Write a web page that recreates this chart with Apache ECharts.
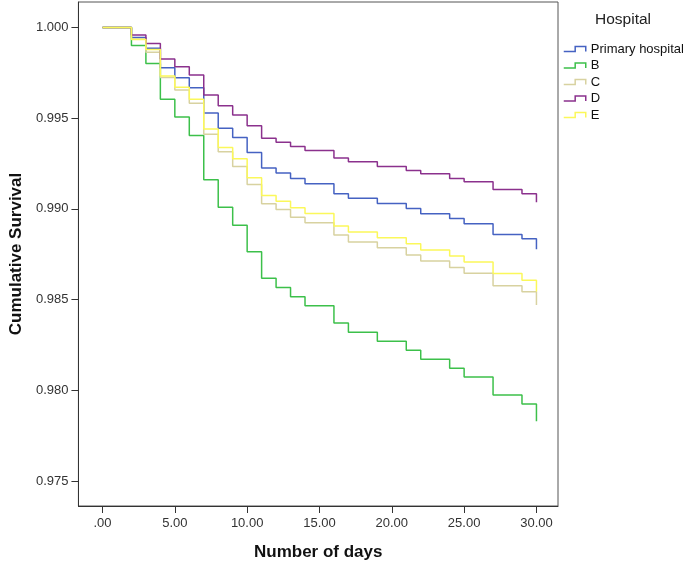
<!DOCTYPE html>
<html>
<head>
<meta charset="utf-8">
<script src="https://cdn.jsdelivr.net/npm/echarts@6/dist/echarts.min.js"></script>
<style>
html,body{margin:0;padding:0;background:#fff;}
#chart{width:685px;height:566px;}
</style>
</head>
<body>
<div id="chart"></div>
<script>
// ---- data ----
const days = [0,2,3,4,5,6,7,8,9,10,11,12,13,14,16,17,19,21,22,24,25,27,29,30];
const seriesNames = ['Primary hospital','B','C','D','E'];
const primaryHospital = [1.0,0.99945,0.99885,0.99778,0.99723,0.99668,0.99528,0.99445,0.99394,0.99311,0.99226,0.99198,0.99167,0.99138,0.99083,0.99059,0.99030,0.99002,0.98973,0.98947,0.98918,0.98859,0.98836,0.98777];
const hospitalB = [1.0,0.99901,0.99802,0.99605,0.99506,0.99405,0.99160,0.99009,0.98910,0.98764,0.98618,0.98567,0.98515,0.98466,0.98371,0.98320,0.98270,0.98221,0.98171,0.98122,0.98073,0.97974,0.97924,0.97829];
const hospitalC = [1.0,0.99936,0.99863,0.99725,0.99656,0.99583,0.99412,0.99315,0.99234,0.99134,0.99028,0.98997,0.98954,0.98924,0.98856,0.98817,0.98786,0.98746,0.98713,0.98677,0.98645,0.98576,0.98543,0.98470];
const hospitalD = [1.0,0.99958,0.99912,0.99826,0.99784,0.99738,0.99628,0.99568,0.99518,0.99458,0.99390,0.99368,0.99344,0.99322,0.99281,0.99260,0.99234,0.99212,0.99194,0.99167,0.99149,0.99107,0.99083,0.99037];
const hospitalE = [1.0,0.99934,0.99879,0.99733,0.99670,0.99605,0.99440,0.99339,0.99277,0.99171,0.99074,0.99042,0.99006,0.98975,0.98905,0.98872,0.98841,0.98808,0.98773,0.98740,0.98707,0.98644,0.98607,0.98545];
const xTicks = [0,5,10,15,20,25,30];
const yTicks = [0.975,0.980,0.985,0.990,0.995,1.000];

const colors = ['#4562c2','#3cc04a','#d8d2a0','#8b318d','#fbf85a'];
const allValues = [primaryHospital, hospitalB, hospitalC, hospitalD, hospitalE];

const chart = echarts.init(document.getElementById('chart'), null, {renderer:'canvas'});
const stepIcon = 'path://M0,10 L13,10 L13,0 L25,0 L25,10';

const option = {
  animation: false,
  backgroundColor: '#ffffff',
  textStyle: {fontFamily: 'Liberation Sans, Arial, sans-serif'},
  title: {
    text: 'Hospital', left: 590, top: 7,
    textStyle: {fontSize: 15.5, fontWeight: 'normal', color: '#222', fontFamily: 'Liberation Sans, Arial, sans-serif'}
  },
  legend: {
    orient: 'vertical', left: 558, top: 37.5,
    itemWidth: 22, itemHeight: 5, itemGap: 3.5,
    symbolKeepAspect: false,
    textStyle: {fontSize: 13, color: '#111'},
    data: seriesNames.map((n,i)=>({
      name: n, icon: stepIcon, symbolKeepAspect: false,
      itemStyle: {color: 'rgba(0,0,0,0)', borderColor: colors[i], borderWidth: 1.5}
    }))
  },
  grid: {
    left: 72, top: 2, width: 486, height: 506,
    show: true, borderColor: '#555', borderWidth: 1, backgroundColor: '#fff'
  },
  xAxis: {
    type: 'value', min: -1.664, max: 31.49,
    name: 'Number of days', nameLocation: 'middle', nameGap: 38,
    nameTextStyle: {fontSize: 17, fontWeight: 'bold', color: '#111'},
    axisLine: {show: true, onZero: false, lineStyle: {color: '#333', width: 1}},
    axisTick: {show: true, length: 7, lineStyle: {color: '#333'}, customValues: xTicks},
    axisLabel: {fontSize: 13, color: '#333', margin: 11, customValues: xTicks,
      formatter: v => v === 0 ? '.00' : v.toFixed(2)},
    splitLine: {show: false}
  },
  yAxis: {
    type: 'value', min: 0.973619, max: 1.001406,
    name: 'Cumulative Survival', nameLocation: 'middle', nameGap: 49, nameRotate: 90,
    nameTextStyle: {fontSize: 17, fontWeight: 'bold', color: '#111'},
    axisLine: {show: true, onZero: false, lineStyle: {color: '#333', width: 1}},
    axisTick: {show: true, length: 7, lineStyle: {color: '#333'}, customValues: yTicks},
    axisLabel: {fontSize: 13, color: '#333', margin: 10, customValues: yTicks,
      formatter: v => v.toFixed(3)},
    splitLine: {show: false}
  },
  series: seriesNames.map((n,i)=>({
    name: n, type: 'line', step: 'end', showSymbol: false, symbol: 'none',
    color: colors[i], z: 2 + i,
    lineStyle: {color: colors[i], width: 1.5},
    data: days.map((d,j)=>[d, allValues[i][j]])
  }))
};
chart.setOption(option);
</script>
</body>
</html>
